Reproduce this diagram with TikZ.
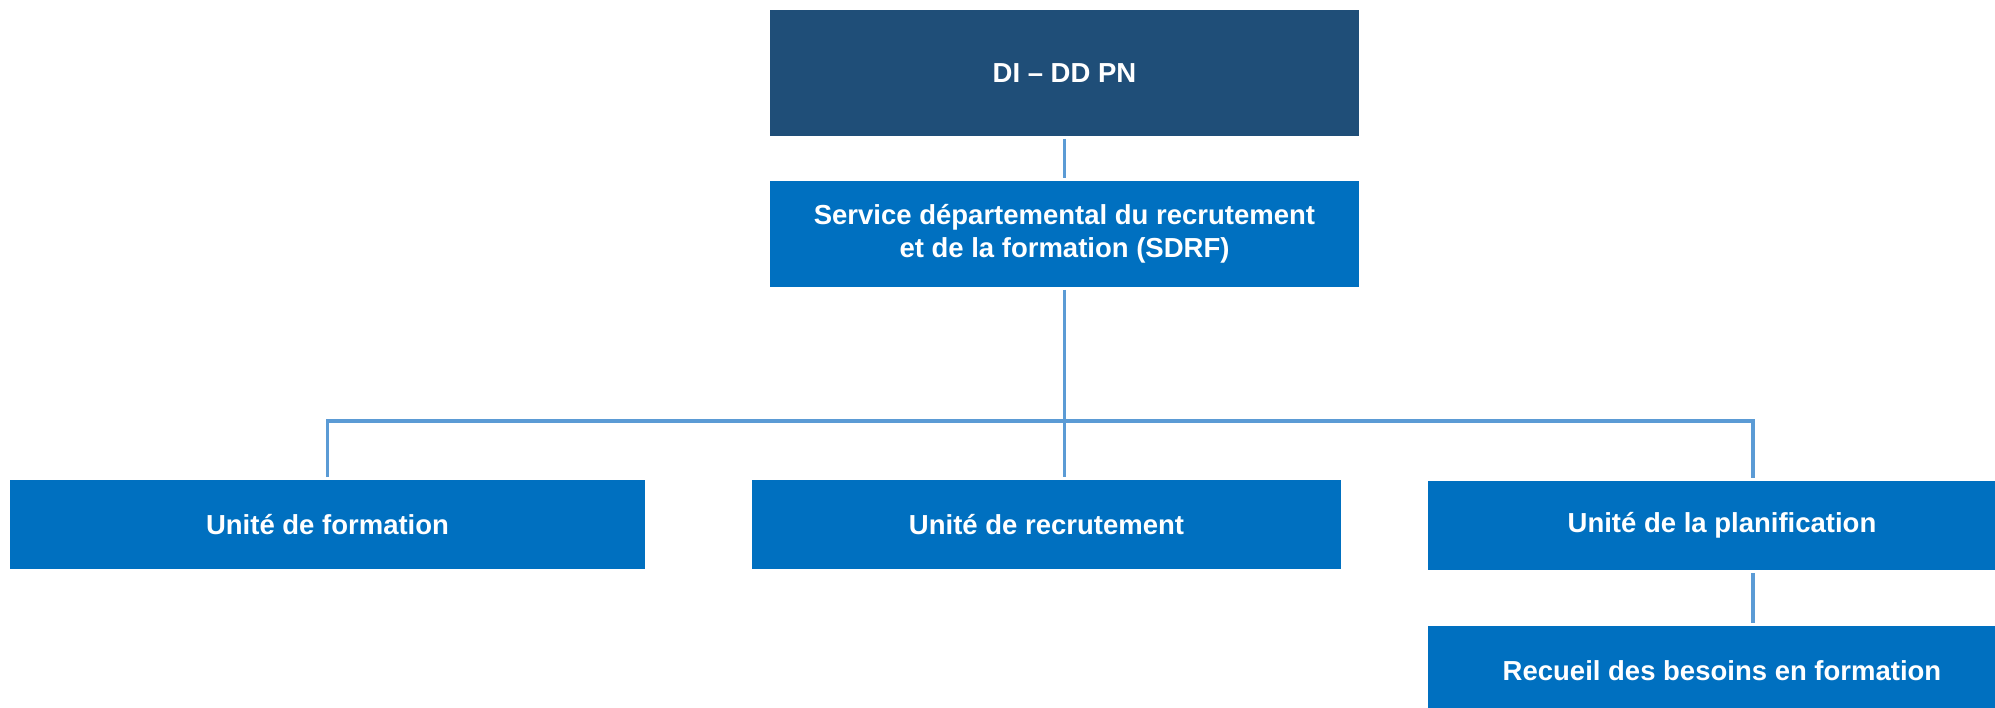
\documentclass[tikz,border=0pt]{standalone}
\usepackage{fontspec}
\setmainfont{Liberation Sans}
\definecolor{topblue}{HTML}{1F4E78}
\definecolor{boxblue}{HTML}{0070C0}
\definecolor{linkblue}{HTML}{5B9BD5}
\begin{document}
\begin{tikzpicture}[x=1pt,y=-1pt]
\tikzset{
  box/.style={fill=boxblue, text=white, font=\bfseries\fontsize{27.5}{33}\selectfont,
    align=center, inner sep=0pt, outer sep=0pt, rectangle},
  link/.style={draw=linkblue, line width=3.5pt, shorten <=3pt, shorten >=3pt}
}
\useasboundingbox (0,0) rectangle (1995,708);
\node[box, fill=topblue, minimum width=589pt, minimum height=126pt] (top) at (1064.5,73) {DI – DD PN};
\node[box, minimum width=589pt, minimum height=106pt] (sdrf) at (1064.5,234) {Service départemental du recrutement\\et de la formation (SDRF)};
\node[box, minimum width=635pt, minimum height=89pt] (form) at (327.5,524.5) {Unité de formation};
\node[box, minimum width=589pt, minimum height=89pt] (recr) at (1046.5,524.5) {Unité de recrutement};
\node[box, minimum width=588pt, minimum height=89pt] (plan) at (1722,525.5) {Unité de la planification};
\node[box, minimum width=588pt, minimum height=89pt] (recu) at (1722,670.5) {Recueil des besoins en formation};
\coordinate (busL) at (327.5,421);
\coordinate (busR) at (1753,421);
\draw[link] (top.south) -- (sdrf.north);
\draw[link] (sdrf.south) -- (sdrf.south |- recr.north);
\draw[link] (form.north) -- (busL) -- (busR) -- (busR |- plan.north);
\draw[link] (busR |- plan.south) -- (busR |- recu.north);
\end{tikzpicture}
\end{document}
